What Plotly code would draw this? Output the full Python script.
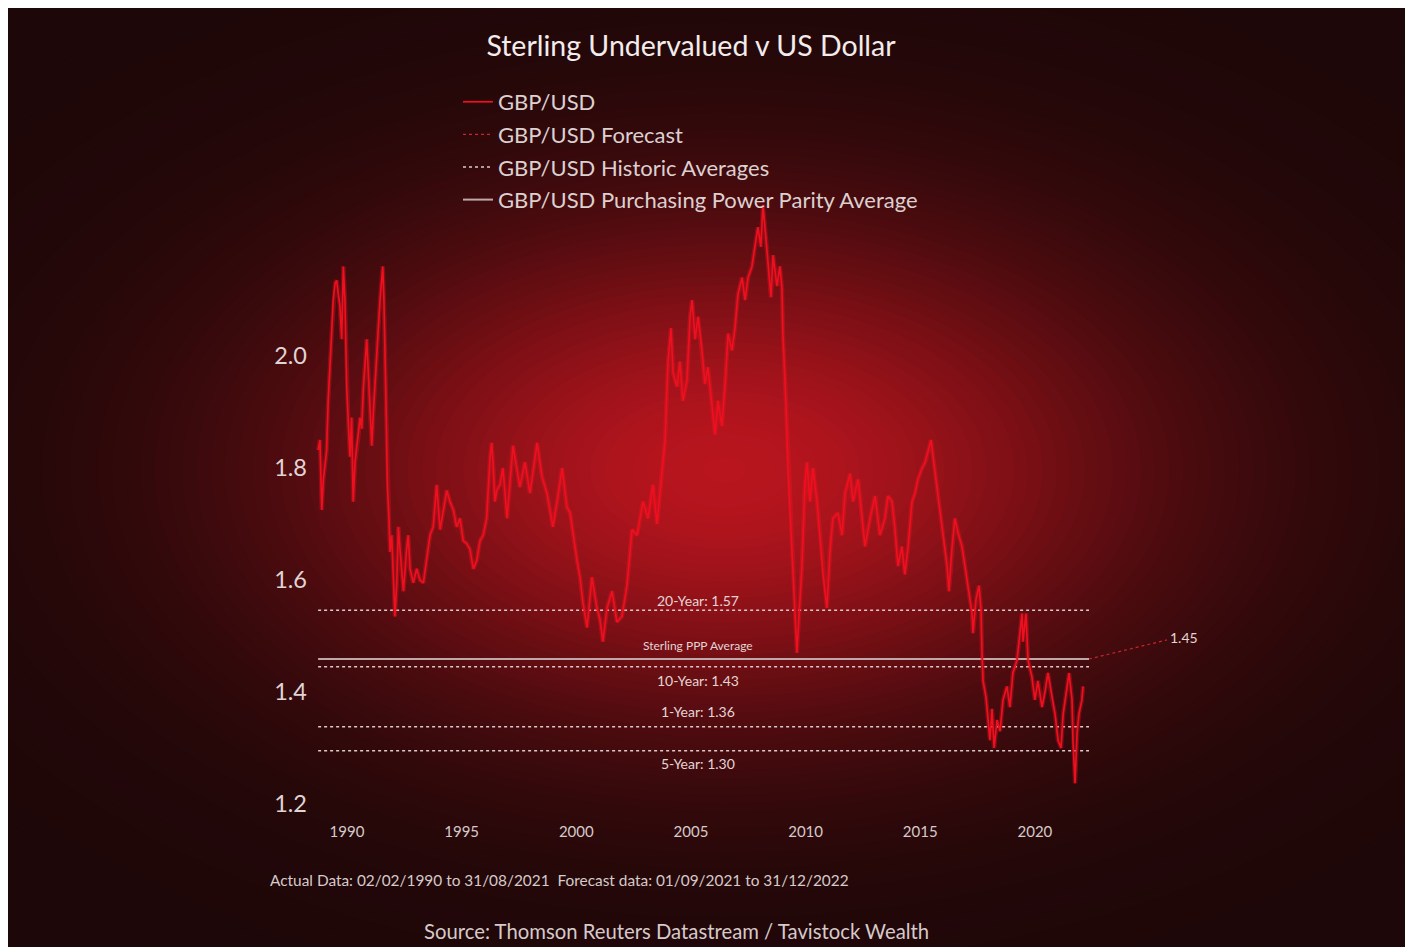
import numpy as np
import plotly.graph_objects as go

# GBP/USD: decimal year and rate
years = [
    1988.74, 1988.82, 1988.90, 1988.97, 1989.11, 1989.18, 1989.33, 1989.40, 1989.48, 1989.55,
    1989.62, 1989.69, 1989.77, 1989.84, 1989.91, 1989.99, 1990.06, 1990.13, 1990.20, 1990.27,
    1990.35, 1990.49, 1990.57, 1990.64, 1990.71, 1990.86, 1990.93, 1991.00, 1991.08, 1991.15,
    1991.30, 1991.37, 1991.44, 1991.56, 1991.61, 1991.70, 1991.76, 1991.83, 1991.88, 1991.95,
    1992.02, 1992.09, 1992.17, 1992.24, 1992.31, 1992.39, 1992.46, 1992.60, 1992.67, 1992.75,
    1992.89, 1993.04, 1993.18, 1993.33, 1993.48, 1993.62, 1993.76, 1993.91, 1994.06, 1994.20,
    1994.35, 1994.49, 1994.64, 1994.78, 1994.93, 1995.07, 1995.22, 1995.36, 1995.51, 1995.66,
    1995.80, 1995.94, 1996.09, 1996.24, 1996.31, 1996.38, 1996.45, 1996.53, 1996.67, 1996.80,
    1996.98, 1997.24, 1997.54, 1997.76, 1997.98, 1998.29, 1998.50, 1998.72, 1998.98, 1999.20,
    1999.38, 1999.59, 1999.73, 2000.03, 2000.16, 2000.29, 2000.47, 2000.68, 2000.90, 2001.03,
    2001.16, 2001.34, 2001.56, 2001.77, 2001.99, 2002.21, 2002.43, 2002.65, 2002.91, 2003.13,
    2003.34, 2003.52, 2003.74, 2003.87, 2004.00, 2004.13, 2004.22, 2004.39, 2004.52, 2004.65,
    2004.83, 2004.96, 2005.05, 2005.18, 2005.31, 2005.48, 2005.61, 2005.74, 2005.92, 2006.05,
    2006.18, 2006.35, 2006.49, 2006.62, 2006.79, 2006.92, 2007.05, 2007.23, 2007.36, 2007.49,
    2007.66, 2007.79, 2007.92, 2008.05, 2008.14, 2008.27, 2008.36, 2008.49, 2008.58, 2008.75,
    2008.88, 2008.97, 2009.01, 2009.14, 2009.23, 2009.36, 2009.45, 2009.58, 2009.62, 2009.71,
    2009.84, 2009.97, 2010.06, 2010.19, 2010.32, 2010.50, 2010.63, 2010.76, 2010.93, 2011.06,
    2011.19, 2011.41, 2011.59, 2011.72, 2011.94, 2012.07, 2012.29, 2012.46, 2012.59, 2012.81,
    2013.03, 2013.24, 2013.46, 2013.59, 2013.77, 2013.90, 2014.03, 2014.20, 2014.33, 2014.47,
    2014.64, 2014.77, 2014.90, 2015.08, 2015.21, 2015.34, 2015.47, 2015.56, 2015.73, 2015.86,
    2015.99, 2016.17, 2016.25, 2016.38, 2016.51, 2016.65, 2016.82, 2016.95, 2017.08, 2017.26,
    2017.30, 2017.43, 2017.56, 2017.65, 2017.69, 2017.74, 2017.87, 2017.95, 2018.04, 2018.13,
    2018.22, 2018.35, 2018.48, 2018.61, 2018.78, 2018.91, 2019.04, 2019.22, 2019.35, 2019.44,
    2019.48, 2019.61, 2019.70, 2019.87, 2020.00, 2020.13, 2020.31, 2020.44, 2020.57, 2020.75,
    2020.88, 2021.01, 2021.14, 2021.23, 2021.40, 2021.49, 2021.62, 2021.66, 2021.75, 2021.84,
    2021.92, 2022.05, 2022.10,
]
rates = [
    1.832, 1.85, 1.725, 1.78, 1.83, 1.92, 2.04, 2.10, 2.13, 2.135,
    2.11, 2.09, 2.03, 2.16, 2.10, 1.94, 1.88, 1.82, 1.89, 1.74,
    1.81, 1.855, 1.89, 1.87, 1.94, 2.03, 1.96, 1.90, 1.84, 1.90,
    2.01, 2.04, 2.10, 2.16, 2.10, 1.92, 1.77, 1.71, 1.65, 1.68,
    1.62, 1.535, 1.595, 1.695, 1.655, 1.62, 1.58, 1.655, 1.68, 1.62,
    1.595, 1.62, 1.60, 1.595, 1.635, 1.68, 1.695, 1.77, 1.69, 1.725,
    1.76, 1.74, 1.725, 1.695, 1.71, 1.67, 1.665, 1.655, 1.62, 1.635,
    1.67, 1.68, 1.71, 1.82, 1.845, 1.80, 1.74, 1.76, 1.77, 1.80,
    1.71, 1.84, 1.766, 1.81, 1.755, 1.845, 1.785, 1.755, 1.695, 1.75,
    1.80, 1.73, 1.72, 1.635, 1.605, 1.56, 1.515, 1.605, 1.55, 1.53,
    1.49, 1.55, 1.58, 1.525, 1.535, 1.59, 1.69, 1.68, 1.74, 1.71,
    1.77, 1.70, 1.80, 1.85, 1.99, 2.05, 1.97, 1.945, 1.99, 1.92,
    1.957, 2.07, 2.10, 2.03, 2.07, 2.01, 1.95, 1.98, 1.91, 1.86,
    1.92, 1.875, 1.95, 2.04, 2.01, 2.05, 2.11, 2.14, 2.10, 2.14,
    2.16, 2.20, 2.23, 2.195, 2.27, 2.21, 2.16, 2.105, 2.18, 2.125,
    2.16, 2.12, 2.04, 1.92, 1.80, 1.68, 1.595, 1.505, 1.47, 1.535,
    1.625, 1.77, 1.81, 1.74, 1.80, 1.74, 1.68, 1.61, 1.55, 1.65,
    1.71, 1.72, 1.68, 1.755, 1.79, 1.74, 1.78, 1.71, 1.66, 1.71,
    1.75, 1.68, 1.71, 1.75, 1.74, 1.69, 1.625, 1.66, 1.61, 1.66,
    1.74, 1.755, 1.78, 1.80, 1.81, 1.83, 1.85, 1.82, 1.766, 1.73,
    1.684, 1.625, 1.58, 1.655, 1.71, 1.684, 1.66, 1.625, 1.59, 1.54,
    1.505, 1.565, 1.59, 1.547, 1.475, 1.42, 1.39, 1.35, 1.314, 1.37,
    1.30, 1.35, 1.33, 1.386, 1.41, 1.373, 1.434, 1.457, 1.505, 1.54,
    1.49, 1.54, 1.457, 1.427, 1.386, 1.42, 1.373, 1.40, 1.434, 1.386,
    1.36, 1.314, 1.30, 1.36, 1.41, 1.434, 1.386, 1.314, 1.237, 1.327,
    1.36, 1.386, 1.41,
]

# historic averages (levels as drawn) and their labels
avg_labels = ["20-Year: 1.57", "10-Year: 1.43", "1-Year: 1.36", "5-Year: 1.30"]
avg_levels = [1.546, 1.445, 1.338, 1.295]
avg_span = [1988.74, 2022.36]

ppp_label = "Sterling PPP Average"
ppp_level = 1.459

forecast_years = [2022.36, 2025.76]
forecast_rates = [1.459, 1.493]
forecast_label = "1.45"

x_ticks = [1990, 1995, 2000, 2005, 2010, 2015, 2020]
y_ticks = [1.2, 1.4, 1.6, 1.8, 2.0]

# figure geometry (pixels)
W, H = 1397, 939
L, T, PW, PH = 308, 192, 884, 615
FONT = "Lato"


def paper(fx, fy):
    return (fx - L) / PW, (T + PH - fy) / PH


fig = go.Figure()

avg_x, avg_y = [], []
for lvl in avg_levels:
    avg_x += [avg_span[0], avg_span[1], None]
    avg_y += [lvl, lvl, None]

fig.add_trace(go.Scatter(x=avg_x, y=avg_y, mode="lines", name="GBP/USD Historic Averages",
                         line=dict(color="#dccaca", width=1.5, dash="dot"),
                         legendgroup="c", legendrank=3))
fig.add_trace(go.Scatter(x=avg_span, y=[ppp_level, ppp_level], mode="lines",
                         name="GBP/USD Purchasing Power Parity Average",
                         line=dict(color="#bfa8a8", width=2), legendgroup="d", legendrank=4))
fig.add_trace(go.Scatter(x=forecast_years, y=forecast_rates, mode="lines", name="GBP/USD Forecast",
                         line=dict(color="#c4262c", width=1.2, dash="dot"),
                         legendgroup="b", legendrank=2))
# soft glow under the main series
fig.add_trace(go.Scatter(x=years, y=rates, mode="lines", showlegend=False, hoverinfo="skip",
                         line=dict(color="rgba(255,20,35,0.3)", width=4.5)))
fig.add_trace(go.Scatter(x=years, y=rates, mode="lines", name="GBP/USD",
                         line=dict(color="#ee0f1f", width=1.7), legendgroup="a", legendrank=1))

# radial red glow behind the plot
edge = np.array([29, 7, 8])
core = np.array([184, 21, 30])
cx, cy, rx, ry = 717, 462, 420, 245
shapes = []
radii = np.linspace(3.0, 0.02, 90)
step = radii[0] - radii[1]
for r in radii:
    f = np.exp(-max(r - step / 2, 0) ** 2)
    c = edge + (core - edge) * f
    x0, y0 = paper(cx - rx * r, cy - ry * r)
    x1, y1 = paper(cx + rx * r, cy + ry * r)
    shapes.append(dict(type="circle", xref="paper", yref="paper", x0=x0, x1=x1, y0=y1, y1=y0,
                       fillcolor=f"rgb({c[0]:.0f},{c[1]:.0f},{c[2]:.0f})", line_width=0, layer="below"))

label_font = dict(family=FONT, size=14, color="#e4d4d4")
annotations = []
shifts = [10, -14, 15, -13]
for text, lvl, dy in zip(avg_labels, avg_levels, shifts):
    annotations.append(dict(x=2005.31, y=lvl, text=text, showarrow=False, yshift=dy,
                            font=label_font))
annotations.append(dict(x=2005.31, y=ppp_level, text=ppp_label, showarrow=False, yshift=13,
                        font=dict(family=FONT, size=12, color="#e4d4d4")))
annotations.append(dict(x=forecast_years[1], y=forecast_rates[1], text=forecast_label,
                        showarrow=False, xanchor="left", xshift=1, yshift=2, font=label_font))

nx, ny = paper(260, 872)
annotations.append(dict(x=nx, y=ny, xref="paper", yref="paper", xanchor="left", yanchor="middle",
                        showarrow=False,
                        text="Actual Data: 02/02/1990 to 31/08/2021  Forecast data: 01/09/2021 to 31/12/2022",
                        font=dict(family=FONT, size=15.4, color="#d6caca")))
sx, sy = paper(668, 923)
annotations.append(dict(x=sx, y=sy, xref="paper", yref="paper", xanchor="center", yanchor="middle",
                        showarrow=False,
                        text="Source: Thomson Reuters Datastream / Tavistock Wealth",
                        font=dict(family=FONT, size=20.3, color="#d6caca")))

lx, ly = paper(450, 73)
fig.update_layout(
    width=W, height=H,
    margin=dict(l=L, r=W - L - PW, t=T, b=H - T - PH),
    paper_bgcolor="rgb(29,7,8)",
    plot_bgcolor="rgba(0,0,0,0)",
    shapes=shapes,
    annotations=annotations,
    title=dict(text="Sterling Undervalued v US Dollar", x=683 / W, y=1 - 38 / H,
               xref="container", yref="container", xanchor="center", yanchor="middle",
               font=dict(family=FONT, size=28.5, color="#f3ecec")),
    legend=dict(x=lx, y=ly, xanchor="left", yanchor="top", bgcolor="rgba(0,0,0,0)",
                font=dict(family=FONT, size=22, color="#ddd0d0"), tracegroupgap=1),
    xaxis=dict(range=[1988.648, 2027.2], tickvals=x_ticks, ticktext=[str(v) for v in x_ticks],
               showgrid=False, zeroline=False, showline=False, ticklabelstandoff=6,
               tickfont=dict(family=FONT, size=15, color="#d6caca")),
    yaxis=dict(range=[1.1804, 2.2786], tickvals=y_ticks, ticktext=[f"{v:.1f}" for v in y_ticks],
               showgrid=False, zeroline=False, showline=False, ticklabelstandoff=8,
               tickfont=dict(family=FONT, size=23.5, color="#e0d4d4")),
    showlegend=True,
)

fig.write_html("out.html")
